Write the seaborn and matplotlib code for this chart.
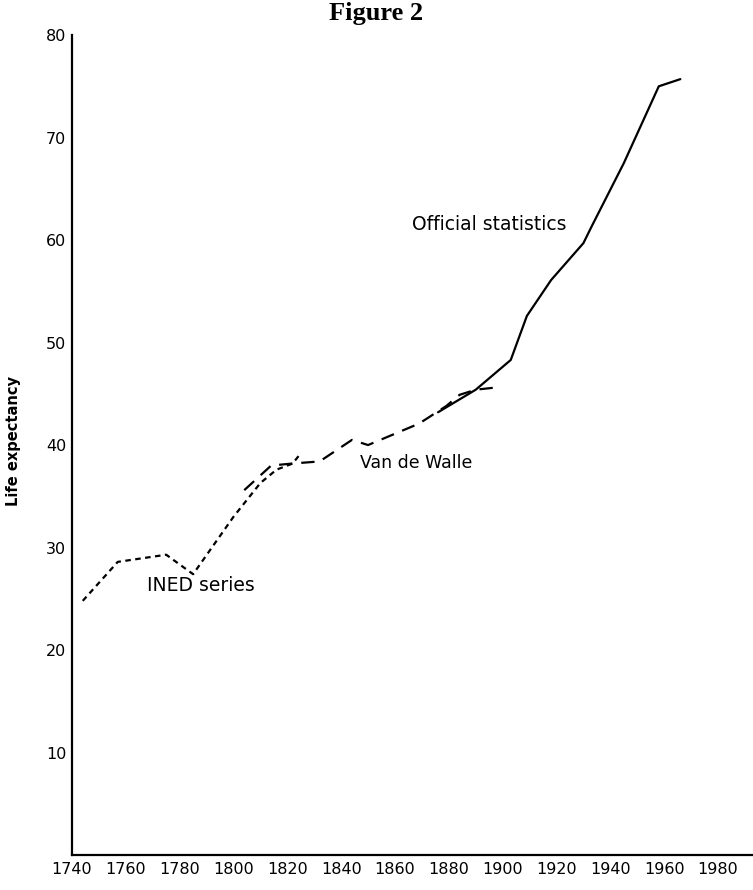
import seaborn as sns
import matplotlib.pyplot as plt
import pandas as pd

# values
ined_years = [1744, 1757, 1775, 1785, 1800, 1810, 1816, 1822, 1825]
ined_life = [24.8, 28.6, 29.3, 27.4, 33.0, 36.3, 37.6, 38.2, 39.2]

vdw_years = [1804, 1814, 1822, 1832, 1844, 1850, 1869, 1879, 1884, 1890, 1897]
vdw_life = [35.6, 38.0, 38.2, 38.4, 40.5, 40.0, 42.1, 43.8, 44.9, 45.4, 45.6]

off_years = [1876, 1890, 1903, 1909, 1918, 1930, 1933, 1945, 1958, 1966]
off_life = [43.2, 45.4, 48.3, 52.6, 56.1, 59.7, 61.3, 67.5, 75.0, 75.7]

xticks = list(range(1740, 1981, 20))
yticks = [10, 20, 30, 40, 50, 60, 70, 80]

df = pd.concat([
    pd.DataFrame({"year": ined_years, "life": ined_life, "series": "INED"}),
    pd.DataFrame({"year": vdw_years, "life": vdw_life, "series": "VdW"}),
    pd.DataFrame({"year": off_years, "life": off_life, "series": "Official"}),
])

sns.set_style("white", rc={"text.color": "black", "axes.labelcolor": "black",
                           "xtick.color": "black", "ytick.color": "black"})
plt.rcParams["font.family"] = ["DejaVu Sans"]

fig = plt.figure(figsize=(7.53, 8.90), dpi=100)
ax = fig.add_axes([0.0956, 0.0393, 0.9044, 0.9213])

sns.lineplot(data=df, x="year", y="life", style="series", color="black",
             dashes={"INED": (2.5, 2.0), "VdW": (6, 4), "Official": ""},
             linewidth=1.6, legend=False, sort=False, ax=ax)

ax.set_xlim(1740, 1993)
ax.set_ylim(0, 80)
ax.set_xticks(xticks)
ax.set_yticks(yticks)
ax.tick_params(direction="in", length=7, width=1.3, labelsize=11.5, pad=4)
ax.tick_params(axis="x", pad=5)
for s in ["top", "right"]:
    ax.spines[s].set_visible(False)
for s in ["left", "bottom"]:
    ax.spines[s].set_linewidth(1.6)
    ax.spines[s].set_color("black")
    ax.spines[s].set_clip_on(False)

ax.set_xlabel("")
ax.set_ylabel("Life expectancy", fontsize=10.5, fontweight="bold", labelpad=12)
ax.yaxis.set_label_coords(-0.075, 0.505)

ax.text(1866.5, 61.5, "Official statistics", fontsize=13.5, va="center")
ax.text(1847, 38.2, "Van de Walle", fontsize=12.5, va="center")
ax.text(1768, 26.3, "INED series", fontsize=13.5, va="center")

fig.text(0.5, 0.998, "Figure 2", ha="center", va="top", fontsize=19,
         fontweight="bold", family="Liberation Serif")

fig.savefig("out.png", dpi=100)
